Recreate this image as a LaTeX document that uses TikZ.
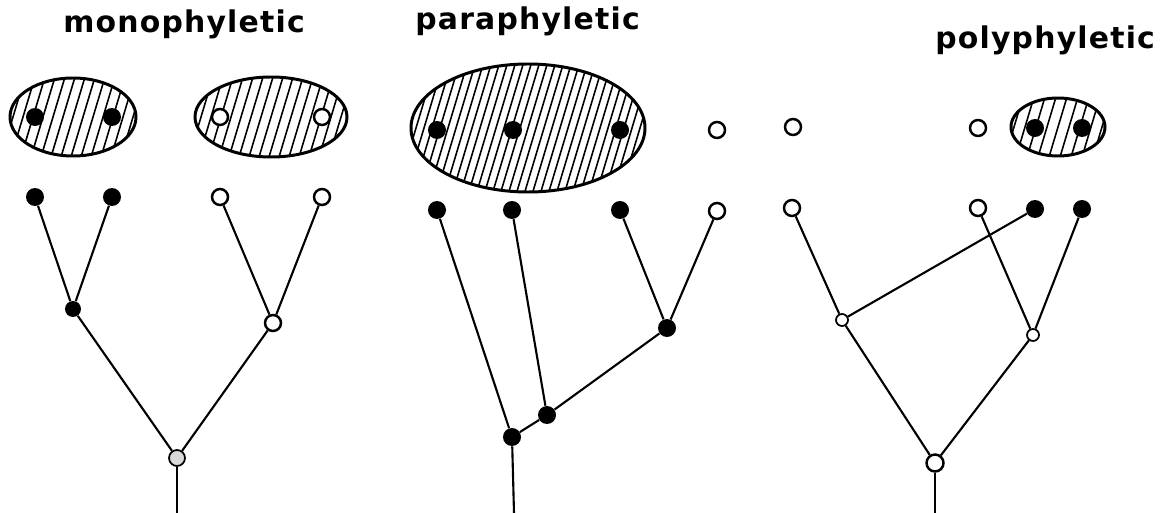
\documentclass[tikz,border=0pt]{standalone}
\usepackage{fontspec}
\newfontfamily\titlefont{DejaVu Sans}[LetterSpace=4]
\usepackage{tikz}

% hatched group: centre x, centre y, x radius, y radius, spacing
\newcommand{\hatchblob}[5]{%
  \begin{scope}
    \clip (#1,#2) ellipse [x radius=#3, y radius=#4];
    \foreach \k in {-16,...,16}
      \draw[hatch] ({#1+\k*#5-30},{#2+100}) -- ++(60,-200);
  \end{scope}
  \draw[blob] (#1,#2) ellipse [x radius=#3, y radius=#4];
}

\begin{document}
\begin{tikzpicture}[x=0.02cm, y=-0.02cm,
    filled/.style={circle, fill=black, inner sep=0pt, minimum size=0.36cm},
    hollow/.style={circle, draw, fill=white, line width=1.4pt, inner sep=0pt, minimum size=0.32cm},
    hollowsmall/.style={circle, draw, fill=white, line width=1pt, inner sep=0pt, minimum size=0.24cm},
    ancestor/.style={circle, draw, fill=gray!30, line width=1pt, inner sep=0pt, minimum size=0.32cm},
    branch/.style={line width=1.2pt},
    hatch/.style={line width=0.9pt},
    blob/.style={line width=1.7pt},
    title/.style={anchor=base west, inner sep=0pt, font=\titlefont\bfseries\fontsize{17}{20}\selectfont}]
  \useasboundingbox (0,0) rectangle (1173,513);

  % titles
  \node[title] (tmono) at (63,33) {monophyletic};
  \node[title] (tpara) at (415,30) {paraphyletic};
  \node[title] (tpoly) at (935,49) {polyphyletic};

  % groups
  \hatchblob{73}{117}{63}{39}{10}
  \hatchblob{271}{117}{76}{40}{10}
  \hatchblob{528}{128}{117}{64}{8}
  \hatchblob{1058}{127}{47}{29}{11}

  \node[filled] (gm1) at (35,117) {};
  \node[filled] (gm2) at (112,117) {};
  \node[hollow] (gm3) at (220,117) {};
  \node[hollow] (gm4) at (322,117) {};
  \node[filled] (gp1) at (437,130) {};
  \node[filled] (gp2) at (513,130) {};
  \node[filled] (gp3) at (620,130) {};
  \node[hollow] (gp4) at (717,130) {};
  \node[hollow] (gq1) at (793,127) {};
  \node[hollow] (gq2) at (978,128) {};
  \node[filled] (gq3) at (1035,128) {};
  \node[filled] (gq4) at (1082,128) {};

  % monophyletic tree
  \node[filled] (m1) at (35,197) {};
  \node[filled] (m2) at (112,197) {};
  \node[hollow] (m3) at (220,197) {};
  \node[hollow] (m4) at (322,197) {};
  \node[filled, minimum size=0.32cm] (ma) at (73,309) {};
  \node[hollow] (mb) at (273,323) {};
  \node[ancestor] (mr) at (177,458) {};
  \coordinate (mbase) at (177,513);
  \draw[branch] (m1) -- (ma);
  \draw[branch] (m2) -- (ma);
  \draw[branch] (m3) -- (mb);
  \draw[branch] (m4) -- (mb);
  \draw[branch] (ma) -- (mr);
  \draw[branch] (mb) -- (mr);
  \draw[branch] (mr) -- (mbase);

  % paraphyletic tree
  \node[filled] (p1) at (437,210) {};
  \node[filled] (p2) at (512,210) {};
  \node[filled] (p3) at (620,210) {};
  \node[hollow] (p4) at (717,211) {};
  \node[filled] (pc) at (667,328) {};
  \node[filled] (pb) at (547,415) {};
  \node[filled] (pr) at (512,437) {};
  \coordinate (pbase) at (514,513);
  \draw[branch] (p1) -- (pr);
  \draw[branch] (p2) -- (pb);
  \draw[branch] (p3) -- (pc);
  \draw[branch] (p4) -- (pc);
  \draw[branch] (pc) -- (pb);
  \draw[branch] (pb) -- (pr);
  \draw[branch] (pr) -- (pbase);

  % polyphyletic tree
  \node[hollow] (q1) at (792,208) {};
  \node[hollow] (q2) at (978,208) {};
  \node[filled] (q3) at (1035,209) {};
  \node[filled] (q4) at (1082,209) {};
  \node[hollowsmall] (qa) at (842,320) {};
  \node[hollowsmall] (qb) at (1033,335) {};
  \node[hollow, minimum size=0.34cm] (qr) at (935,463) {};
  \coordinate (qbase) at (935,513);
  \draw[branch] (q1) -- (qa);
  \draw[branch] (q3) -- (qa);
  \draw[branch] (q2) -- (qb);
  \draw[branch] (q4) -- (qb);
  \draw[branch] (qa) -- (qr);
  \draw[branch] (qb) -- (qr);
  \draw[branch] (qr) -- (qbase);
\end{tikzpicture}
\end{document}
